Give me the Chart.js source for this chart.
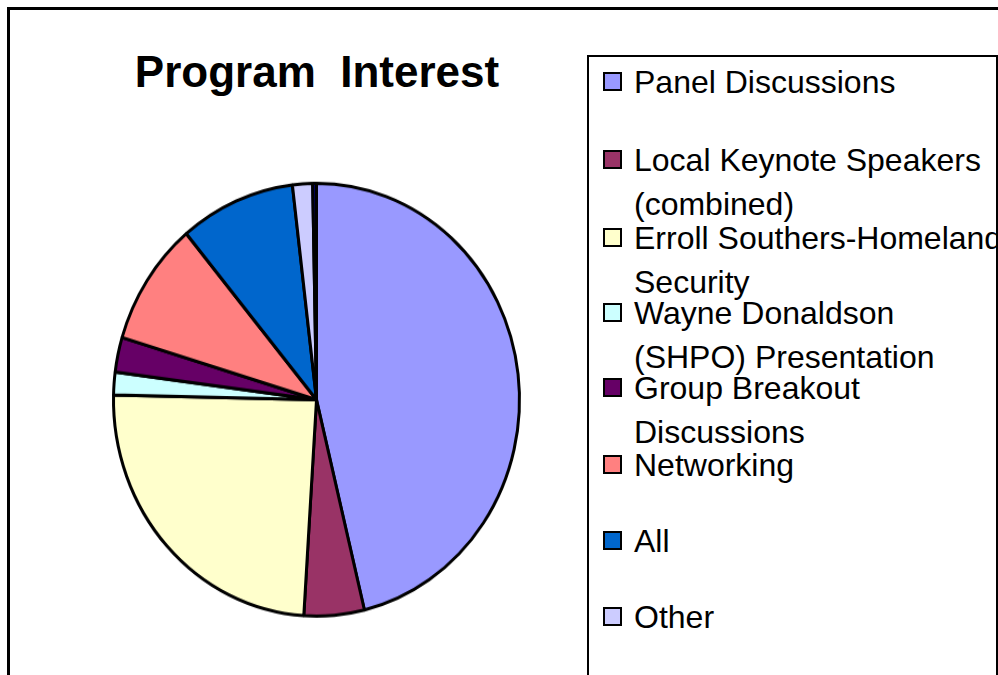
<!DOCTYPE html>
<html>
<head>
<meta charset="utf-8">
<script src="https://cdn.jsdelivr.net/npm/chart.js@4/dist/chart.umd.min.js"></script>
<style>
  html, body { margin: 0; padding: 0; background: #fff; }
  body { width: 998px; height: 675px; position: relative; overflow: hidden; font-family: "Liberation Sans", Arial, sans-serif; }
  #frame { position: absolute; left: 7px; top: 7px; width: 1100px; height: 800px; border: 3px solid #000; box-sizing: border-box; }
  #legendBox { position: absolute; left: 587px; top: 55px; width: 411px; height: 700px; border: 2px solid #000; box-sizing: border-box; }
  #title { position: absolute; left: 0; width: 634px; top: 46px; text-align: center; font-size: 44px; font-weight: bold; line-height: 52px; white-space: pre; }
  /* the original pie is a bit taller than wide, so the canvas is stretched vertically */
  #pieWrap { position: absolute; left: 100px; top: 170px; width: 440px; height: 440px; transform: scaleY(1.066); transform-origin: 0 0; }
  .item { position: absolute; left: 603px; font-size: 32px; line-height: 44px; color: #000; white-space: nowrap; }
  .item .sw { position: absolute; left: 0; top: 12px; width: 15px; height: 15px; border: 2px solid #000; }
  .item .txt { position: absolute; left: 31px; top: 0; }
</style>
</head>
<body>
<div id="frame"></div>
<div id="legendBox"></div>
<div id="title">Program  Interest</div>
<div id="pieWrap"><canvas id="pie" width="440" height="440"></canvas></div>
<div id="legend"></div>
<script>
const labels = [
  ['Panel Discussions'],
  ['Local Keynote Speakers', '(combined)'],
  ['Erroll Southers-Homeland', 'Security'],
  ['Wayne Donaldson', '(SHPO) Presentation'],
  ['Group Breakout', 'Discussions'],
  ['Networking'],
  ['All'],
  ['Other'],
  ['']
];
const values = [46.3, 4.8, 24.4, 1.7, 2.6, 9.3, 9.2, 1.6, 0.3];
const colors = ['#9999FF', '#993366', '#FFFFCC', '#CCFFFF', '#660066', '#FF8080', '#0066CC', '#CCCCFF', '#000080'];

const ctx = document.getElementById('pie').getContext('2d');
new Chart(ctx, {
  type: 'pie',
  data: {
    labels: labels,
    datasets: [{
      data: values,
      backgroundColor: colors,
      borderColor: '#000',
      borderWidth: 3
    }]
  },
  options: {
    responsive: false,
    animation: false,
    layout: { padding: { left: 12, right: 19, top: 11, bottom: 20 } },
    plugins: {
      legend: { display: false },
      tooltip: { enabled: false }
    }
  }
});

// html legend, one row per category
const legendTops = [60, 138, 216, 291, 366, 443, 519, 595, 671];
const legend = document.getElementById('legend');
labels.forEach((lab, i) => {
  if (!lab[0]) return;
  const div = document.createElement('div');
  div.className = 'item';
  div.style.top = legendTops[i] + 'px';
  div.innerHTML = '<div class="sw" style="background:' + colors[i] + '"></div><div class="txt">' + lab.join('<br>') + '</div>';
  legend.appendChild(div);
});
</script>
</body>
</html>
